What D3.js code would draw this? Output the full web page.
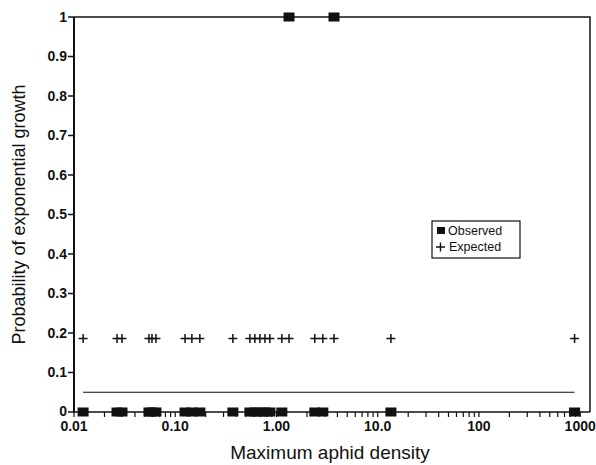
<!DOCTYPE html>
<html>
<head>
<meta charset="utf-8">
<script src="https://cdn.jsdelivr.net/npm/d3@7.9.0/dist/d3.min.js"></script>
<style>
  body { margin: 0; background: #fff; }
  svg { display: block; font-family: "Liberation Sans", Arial, sans-serif; }
</style>
</head>
<body>
<div id="chart"></div>
<script>
// Data
const density = [0.0123, 0.0266, 0.0298, 0.055, 0.0589, 0.0645, 0.125, 0.146, 0.175,
  0.371, 0.546, 0.612, 0.686, 0.769, 0.861, 1.13, 1.33, 2.39, 2.87, 3.7, 13.5, 880];
const observed = [0, 0, 0, 0, 0, 0, 0, 0, 0,
  0, 0, 0, 0, 0, 0, 0, 1, 0, 0, 1, 0, 0];
const expected = [0.186, 0.186, 0.186, 0.186, 0.186, 0.186, 0.186, 0.186, 0.186,
  0.186, 0.186, 0.186, 0.186, 0.186, 0.186, 0.186, 0.186, 0.186, 0.186, 0.186, 0.186, 0.186];
const threshold = 0.05;

const xTicks = [0.01, 0.1, 1, 10, 100, 1000];
const xTickLabels = ['0.01', '0.10', '1.00', '10.0', '100', '1000'];
const yTicks = [0, 0.1, 0.2, 0.3, 0.4, 0.5, 0.6, 0.7, 0.8, 0.9, 1];
const yTickLabels = ['0', '0.1', '0.2', '0.3', '0.4', '0.5', '0.6', '0.7', '0.8', '0.9', '1'];

const width = 596;
const height = 465;
const margin = { top: 17, right: 6, bottom: 53, left: 74 };

const svg = d3.select('#chart').append('svg')
  .attr('width', width)
  .attr('height', height);

const xScale = d3.scaleLog()
  .domain([0.01, 1250])
  .range([margin.left, width - margin.right]);

const yScale = d3.scaleLinear()
  .domain([0, 1])
  .range([height - margin.bottom, margin.top]);

const bottom = height - margin.bottom;
const right = width - margin.right;

// minor ticks 2..9 in each decade
const minorTicks = [];
xTicks.slice(0, -1).forEach(d => {
  for (let k = 2; k <= 9; k++) minorTicks.push(d * k);
});

// frame (top and right)
svg.append('path')
  .attr('d', `M${margin.left},${margin.top}H${right}V${bottom}`)
  .attr('fill', 'none')
  .attr('stroke', '#111')
  .attr('stroke-width', 1.5);

// x axis
const xAxis = svg.append('g').attr('transform', `translate(0,${bottom})`);
xAxis.append('line')
  .attr('x1', margin.left).attr('x2', right)
  .attr('stroke', '#111').attr('stroke-width', 1.5);
xAxis.selectAll('.minor')
  .data(minorTicks)
  .join('line')
  .attr('x1', d => xScale(d)).attr('x2', d => xScale(d))
  .attr('y1', 0).attr('y2', 5)
  .attr('stroke', '#111').attr('stroke-width', 1.2);
xAxis.selectAll('.major')
  .data(xTicks)
  .join('line')
  .attr('x1', d => xScale(d)).attr('x2', d => xScale(d))
  .attr('y1', 0).attr('y2', 5)
  .attr('stroke', '#111').attr('stroke-width', 1.2);
xAxis.selectAll('text')
  .data(xTicks)
  .join('text')
  .attr('x', d => xScale(d))
  .attr('y', 19)
  .attr('text-anchor', 'middle')
  .attr('font-size', 14)
  .attr('font-weight', 'bold')
  .attr('fill', '#111')
  .text((d, i) => xTickLabels[i]);

// y axis
const yAxis = svg.append('g').attr('transform', `translate(${margin.left},0)`);
yAxis.append('line')
  .attr('y1', margin.top).attr('y2', bottom)
  .attr('stroke', '#111').attr('stroke-width', 2);
yAxis.selectAll('line.tick')
  .data(yTicks)
  .join('line')
  .attr('class', 'tick')
  .attr('x1', -6).attr('x2', 0)
  .attr('y1', d => yScale(d)).attr('y2', d => yScale(d))
  .attr('stroke', '#111').attr('stroke-width', 1.5);
yAxis.selectAll('text')
  .data(yTicks)
  .join('text')
  .attr('x', -7)
  .attr('y', d => yScale(d) - (d === 0 ? 1 : 0))
  .attr('dy', '0.35em')
  .attr('text-anchor', 'end')
  .attr('font-size', 14)
  .attr('font-weight', 'bold')
  .attr('fill', '#111')
  .text((d, i) => yTickLabels[i]);

// axis titles
svg.append('text')
  .attr('x', (margin.left + right) / 2 - 2)
  .attr('y', 459)
  .attr('text-anchor', 'middle')
  .attr('font-size', 19)
  .attr('fill', '#111')
  .text('Maximum aphid density');

svg.append('text')
  .attr('transform', `translate(25,${(margin.top + bottom) / 2}) rotate(-90)`)
  .attr('text-anchor', 'middle')
  .attr('font-size', 18)
  .attr('fill', '#111')
  .text('Probability of exponential growth');

// threshold line
svg.append('line')
  .attr('x1', xScale(d3.min(density))).attr('x2', xScale(d3.max(density)))
  .attr('y1', yScale(threshold)).attr('y2', yScale(threshold))
  .attr('stroke', '#111').attr('stroke-width', 1.2);

// expected (+)
const plus = 4.5;
svg.append('g').selectAll('path')
  .data(density)
  .join('path')
  .attr('d', (d, i) => {
    const x = xScale(d), y = yScale(expected[i]);
    return `M${x - plus},${y}H${x + plus}M${x},${y - plus}V${y + plus}`;
  })
  .attr('stroke', '#111')
  .attr('stroke-width', 1.5);

// observed (squares)
svg.append('g').selectAll('rect')
  .data(density)
  .join('rect')
  .attr('x', d => xScale(d) - 5.5)
  .attr('y', (d, i) => yScale(observed[i]) - 4.5)
  .attr('width', 11)
  .attr('height', 9)
  .attr('fill', '#111');

// legend
const legend = svg.append('g').attr('transform', 'translate(432,221)');
legend.append('rect')
  .attr('width', 88).attr('height', 37)
  .attr('fill', '#fff')
  .attr('stroke', '#111').attr('stroke-width', 1.2);
legend.append('rect')
  .attr('x', 5).attr('y', 6).attr('width', 8).attr('height', 7)
  .attr('fill', '#111');
legend.append('text')
  .attr('x', 16).attr('y', 10).attr('dy', '0.35em')
  .attr('font-size', 12.5).attr('fill', '#111')
  .text('Observed');
legend.append('path')
  .attr('d', 'M4,26H13M8.5,21.5V30.5')
  .attr('stroke', '#111').attr('stroke-width', 1.4);
legend.append('text')
  .attr('x', 17).attr('y', 26).attr('dy', '0.35em')
  .attr('font-size', 12.5).attr('fill', '#111')
  .text('Expected');
</script>
</body>
</html>
